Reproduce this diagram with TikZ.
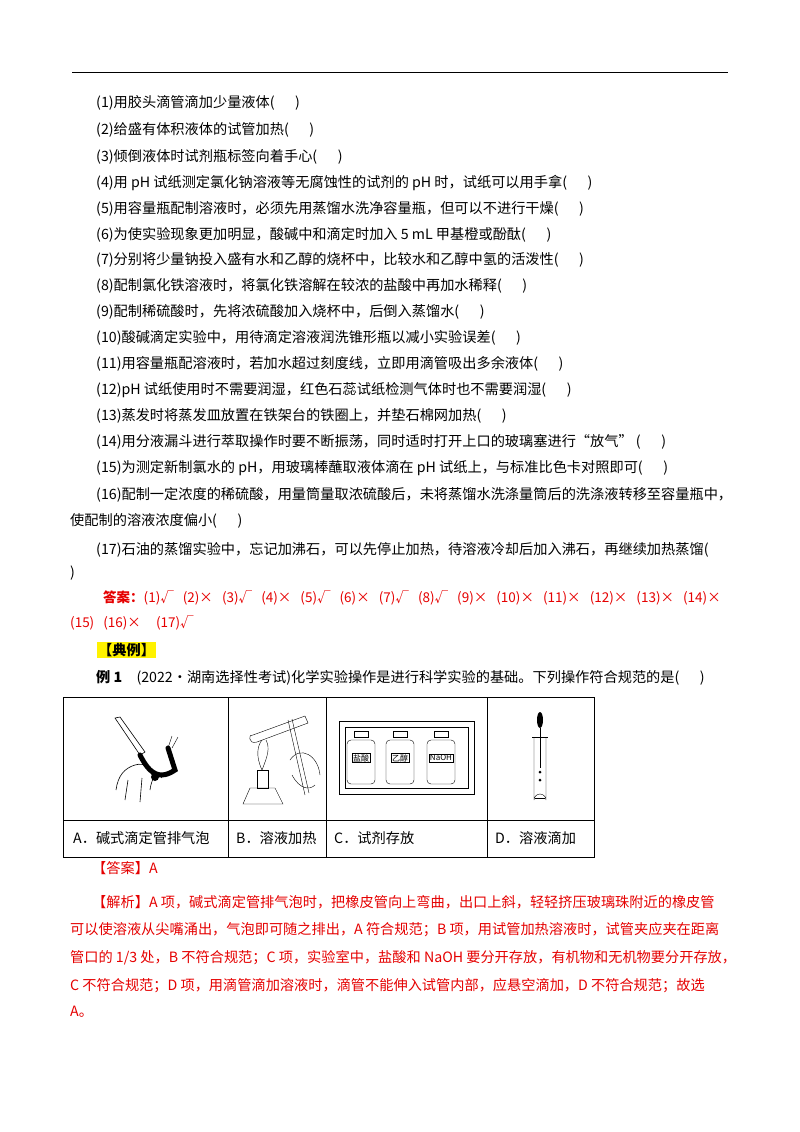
\documentclass[tikz,border=0pt]{standalone}
\usepackage{fontspec}
\setmainfont{Noto Sans CJK SC}
\begin{document}
\begin{tikzpicture}[x=1pt,y=-1pt,
  ln/.style={anchor=west,inner sep=0pt,font=\fontsize{14.2}{16}\selectfont},
  rd/.style={ln,text=red!90!black},
  cell/.style={draw,line width=0.8pt}]
\useasboundingbox (0,0) rectangle (800,1132);
\draw[line width=0.8pt] (72,72) -- (728,72);
\node[ln] (l1) at (96,103) {(1)用胶头滴管滴加少量液体(\quad\ \ )};
\node[ln] (l2) at (96,130) {(2)给盛有体积液体的试管加热(\quad\ \ )};
\node[ln] (l3) at (96,157) {(3)倾倒液体时试剂瓶标签向着手心(\quad\ \ )};
\node[ln] (l4) at (96,183) {(4)用 pH 试纸测定氯化钠溶液等无腐蚀性的试剂的 pH 时，试纸可以用手拿(\quad\ \ )};
\node[ln] (l5) at (96,209) {(5)用容量瓶配制溶液时，必须先用蒸馏水洗净容量瓶，但可以不进行干燥(\quad\ \ )};
\node[ln] (l6) at (96,235) {(6)为使实验现象更加明显，酸碱中和滴定时加入 5 mL 甲基橙或酚酞(\quad\ \ )};
\node[ln] (l7) at (96,260) {(7)分别将少量钠投入盛有水和乙醇的烧杯中，比较水和乙醇中氢的活泼性(\quad\ \ )};
\node[ln] (l8) at (96,286) {(8)配制氯化铁溶液时，将氯化铁溶解在较浓的盐酸中再加水稀释(\quad\ \ )};
\node[ln] (l9) at (96,312) {(9)配制稀硫酸时，先将浓硫酸加入烧杯中，后倒入蒸馏水(\quad\ \ )};
\node[ln] (l10) at (96,338) {(10)酸碱滴定实验中，用待滴定溶液润洗锥形瓶以减小实验误差(\quad\ \ )};
\node[ln] (l11) at (96,364) {(11)用容量瓶配溶液时，若加水超过刻度线，立即用滴管吸出多余液体(\quad\ \ )};
\node[ln] (l12) at (96,390) {(12)pH 试纸使用时不需要润湿，红色石蕊试纸检测气体时也不需要润湿(\quad\ \ )};
\node[ln] (l13) at (96,416) {(13)蒸发时将蒸发皿放置在铁架台的铁圈上，并垫石棉网加热(\quad\ \ )};
\node[ln] (l14) at (96,442) {(14)用分液漏斗进行萃取操作时要不断振荡，同时适时打开上口的玻璃塞进行“放气”\ (\quad\ \ )};
\node[ln] (l15) at (96,468) {(15)为测定新制氯水的 pH，用玻璃棒蘸取液体滴在 pH 试纸上，与标准比色卡对照即可(\quad\ \ )};
\node[ln] (l16) at (96,495) {(16)配制一定浓度的稀硫酸，用量筒量取浓硫酸后，未将蒸馏水洗涤量筒后的洗涤液转移至容量瓶中，};
\node[ln] (l16b) at (70,521) {使配制的溶液浓度偏小(\quad\ \ )};
\node[ln] (l17) at (96,550) {(17)石油的蒸馏实验中，忘记加沸石，可以先停止加热，待溶液冷却后加入沸石，再继续加热蒸馏(};
\node[ln] (l17b) at (70,573) {)};
\node[rd,font=\fontsize{13.5}{16}\selectfont] (a1) at (103,598) {\bfseries 答案：\mdseries(1)√\ \ \ (2)×\ \ \ (3)√\ \ \ (4)×\ \ \ (5)√\ \ \ (6)×\ \ \ (7)√\ \ \ (8)√\ \ \ (9)×\ \ \ (10)×\ \ \ (11)×\ \ \ (12)×\ \ \ (13)×\ \ \ (14)×};
\node[rd,font=\fontsize{13.5}{16}\selectfont] (a2) at (70,623) {(15)\ \ \ (16)×\ \ \ \ \ (17)√};
\node[ln,fill=yellow,inner sep=1pt] (dl) at (97,650) {\bfseries 【典例】};
\node[ln] (ex) at (96,678) {\textbf{例 1}\quad (2022•湖南选择性考试)化学实验操作是进行科学实验的基础。下列操作符合规范的是(\quad\ \ )};
% table
\draw[cell] (63,697) rectangle (594,857);
\draw[cell] (63,820) -- (594,820);
\foreach \x in {228,326,487} \draw[cell] (\x,697) -- (\x,857);
\node[ln] (ta) at (73,838) {A．碱式滴定管排气泡};
\node[ln] (tb) at (236,838) {B．溶液加热};
\node[ln] (tc) at (334,838) {C．试剂存放};
\node[ln] (td) at (495,838) {D．溶液滴加};
% A
\draw[line width=0.6pt] (115,718) -- (120,717) -- (145,752) -- (140,755) -- cycle;
\draw[line width=5pt,line cap=round] (140,755) .. controls (150,775) and (160,780) .. (175,770) -- (168,748);
\draw (168,748) -- (172,736) (172,748) -- (178,737);
\draw[line width=0.6pt] (116,790) .. controls (118,775) and (125,768) .. (135,765) .. controls (145,762) and (150,768) .. (152,775) (125,800) -- (128,780) (140,802) -- (142,778) (150,790) .. controls (152,775) and (158,772) .. (162,778);
\fill (155,777) circle (4);
% B
\draw (250,788) -- (243,804) -- (283,804) -- (275,788) -- cycle;
\draw (257,770) rectangle (268,788);
\draw (262,770) .. controls (255,755) and (258,745) .. (262,740) (262,770) .. controls (268,755) and (270,748) .. (266,740);
\draw (253,735) -- (305,716) -- (308,723) -- (257,742) .. controls (248,745) and (248,733) .. (253,735);
\draw (288,720) -- (305,795) (292,719) -- (309,793);
\draw (290,760) .. controls (300,745) and (318,755) .. (320,775) (292,775) .. controls (300,790) and (310,790) .. (315,785);
% C
\draw (339,721) rectangle (474,794);
\draw (345,727) rectangle (468,788);
\foreach \cx/\lab in {361/盐酸,400/乙醇,441/NaOH}{
  \draw (\cx-7,731) rectangle (\cx+7,737);
  \draw[rounded corners=4pt] (\cx-14,740) rectangle (\cx+14,784);
  \node[draw,inner sep=1pt,font=\fontsize{8}{9}\selectfont] at (\cx,758) {\lab};
}
% D
\draw (534,737) -- (534,800) arc[start angle=180,end angle=360,radius=6] -- (546,737);
\draw (532,737) -- (548,737);
\fill (540,720) ellipse (3 and 8);
\draw (540,728) -- (540,768);
\fill (540,772) circle (1.5) (540,780) circle (1.5);
\draw (535,798) -- (545,798);
% answer
\node[rd] (ans) at (92,868) {【答案】A};
\node[rd] (s1) at (92,902) {【解析】A 项，碱式滴定管排气泡时，把橡皮管向上弯曲，出口上斜，轻轻挤压玻璃珠附近的橡皮管};
\node[rd] (s2) at (70,930) {可以使溶液从尖嘴涌出，气泡即可随之排出，A 符合规范；B 项，用试管加热溶液时，试管夹应夹在距离};
\node[rd] (s3) at (70,958) {管口的 1/3 处，B 不符合规范；C 项，实验室中，盐酸和 NaOH 要分开存放，有机物和无机物要分开存放，};
\node[rd] (s4) at (70,986) {C 不符合规范；D 项，用滴管滴加溶液时，滴管不能伸入试管内部，应悬空滴加，D 不符合规范；故选};
\node[rd] (s5) at (70,1012) {A。};
\end{tikzpicture}
\end{document}
